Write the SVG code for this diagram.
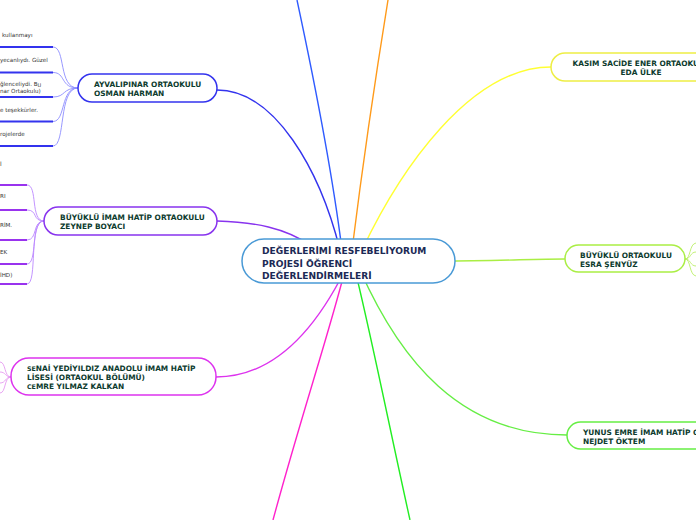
<svg xmlns="http://www.w3.org/2000/svg" width="696" height="520" viewBox="0 0 696 520">
<style>
.node{fill:#fff;stroke-width:1.5}
.t{font-family:"DejaVu Sans",Verdana,sans-serif;font-weight:bold;font-size:7.4px;fill:#0d3b2e}
.tc{font-family:"DejaVu Sans",Verdana,sans-serif;font-weight:bold;font-size:9.1px;fill:#1b2a55}
.leaf{font-family:"DejaVu Sans",Verdana,sans-serif;font-size:5.6px;fill:#333}
.c{fill:none;stroke-width:1.4}
.u{fill:none;stroke-width:2}
.l{fill:none;stroke-width:0.9}
</style>
<rect width="696" height="520" fill="#fff"/>
<g id="connectors">
<path class="c" stroke="#2f5bff" d="M297,0 C312,70 332,170 342,250"/>
<path class="c" stroke="#ff9a1a" d="M388,0 C375,80 362,170 352,250"/>
<path class="c" stroke="#3333ee" d="M217,90 C275,90 320,170 340,250"/>
<path class="c" stroke="#8833ee" d="M217,221 C255,222 285,228 310,245"/>
<path class="c" stroke="#dd33ee" d="M216,377 C280,377 320,320 345,270"/>
<path class="c" stroke="#ff22cc" d="M273,520 C300,420 330,330 345,270"/>
<path class="c" stroke="#22ee22" d="M410,520 C390,430 370,330 355,270"/>
<path class="c" stroke="#ffff33" d="M362,250 C400,170 470,67 551,67"/>
<path class="c" stroke="#aaee44" d="M440,261 C500,261 530,259 565,259"/>
<path class="c" stroke="#66ee44" d="M360,270 C400,360 460,435 567,435"/>
<g stroke="#3333ee">
<path class="u" d="M0,47 H53"/><path class="u" d="M0,72.5 H53"/><path class="u" d="M0,97 H53"/><path class="u" d="M0,121.5 H53"/><path class="u" d="M0,146 H53"/>
</g>
<g stroke="#8c8cff">
<path class="l" d="M53,47 C66,47 58,88 78,88"/>
<path class="l" d="M53,72.5 C66,72.5 60,88 78,88"/>
<path class="l" d="M53,97 C66,97 62,88 78,88"/>
<path class="l" d="M53,121.5 C66,121.5 60,88 78,88"/>
<path class="l" d="M53,146 C66,146 58,88 78,88"/>
</g>
<g stroke="#9933ee">
<path class="u" d="M0,185 H27"/><path class="u" d="M0,210 H27"/><path class="u" d="M0,240 H27"/><path class="u" d="M0,264 H27"/><path class="u" d="M0,284 H27"/>
</g>
<g stroke="#bb88ff">
<path class="l" d="M27,185 C38,185 30,221 44,221"/>
<path class="l" d="M27,210 C38,210 32,221 44,221"/>
<path class="l" d="M27,240 C38,240 32,221 44,221"/>
<path class="l" d="M27,264 C38,264 30,221 44,221"/>
<path class="l" d="M27,284 C38,284 28,221 44,221"/>
</g>
<g stroke="#e59af0">
<path class="l" d="M0,362 C6,362 4,377 11,377"/>
<path class="l" d="M0,372 C6,372 5,377 11,377"/>
<path class="l" d="M0,383 C6,383 5,377 11,377"/>
<path class="l" d="M0,393 C6,393 4,377 11,377"/>
</g>
<g stroke="#bbee66">
<path class="l" d="M685,259 C691,259 689,244 696,243"/>
<path class="l" d="M685,259 C691,259 690,252 696,252"/>
<path class="l" d="M685,259 C691,259 690,266 696,266"/>
<path class="l" d="M685,259 C691,259 689,275 696,276"/>
</g>
</g>
<g id="leaves-text">
<text class="leaf" x="2" y="37">kullanmayı</text>
<text class="leaf" x="0" y="62">yecanlıydı. Güzel</text>
<text class="leaf" x="0" y="86">ğlenceliydi. B<tspan font-size="5" dy="1">U</tspan></text>
<text class="leaf" x="0" y="93">nar Ortaokulu)</text>
<text class="leaf" x="0" y="112">e teşekkürler.</text>
<text class="leaf" x="0" y="136">rojelerde</text>
<text class="leaf" x="0" y="166">İ</text>
<text class="leaf" x="0" y="198">RI</text>
<text class="leaf" x="0" y="227">RİM.</text>
<text class="leaf" x="0" y="254">EK</text>
<text class="leaf" x="0" y="277">İHD)</text>
</g>
<g id="center">
<rect class="node" stroke="#4a9ad6" x="242" y="239" width="213" height="44" rx="22"/>
<text class="tc" x="262" y="254">DEĞERLERİMİ RESFEBELİYORUM</text>
<text class="tc" x="262" y="266.5">PROJESİ ÖĞRENCİ</text>
<text class="tc" x="262" y="279">DEĞERLENDİRMELERİ</text>
</g>
<g id="ayvalipinar">
<rect class="node" stroke="#3333ee" x="78" y="74" width="139" height="28" rx="14"/>
<text class="t" x="94" y="87">AYVALIPINAR ORTAOKULU</text>
<text class="t" x="94" y="96">OSMAN HARMAN</text>
</g>
<g id="buyuklu-imam-hatip">
<rect class="node" stroke="#8833ee" x="44" y="207" width="173" height="28" rx="14"/>
<text class="t" x="60" y="220">BÜYÜKLÜ İMAM HATİP ORTAOKULU</text>
<text class="t" x="60" y="229">ZEYNEP BOYACI</text>
</g>
<g id="senai">
<rect class="node" stroke="#dd33ee" x="11" y="358" width="205" height="37" rx="18"/>
<text class="t" x="27" y="371"><tspan font-size="6.3">SE</tspan>NAİ YEDİYILDIZ ANADOLU İMAM HATİP</text>
<text class="t" x="27" y="380">LİSESİ (ORTAOKUL BÖLÜMÜ)</text>
<text class="t" x="27" y="389"><tspan font-size="6.3">CE</tspan>MRE YILMAZ KALKAN</text>
</g>
<g id="kasim">
<rect class="node" stroke="#eeee44" x="551" y="53" width="170" height="28" rx="14"/>
<text class="t" x="641" y="66" text-anchor="middle">KASIM SACİDE ENER ORTAOKULU</text>
<text class="t" x="641" y="75" text-anchor="middle">EDA ÜLKE</text>
</g>
<g id="buyuklu-ortaokulu">
<rect class="node" stroke="#aaee44" x="565" y="245" width="120" height="27" rx="13.5"/>
<text class="t" x="580" y="258">BÜYÜKLÜ ORTAOKULU</text>
<text class="t" x="580" y="267">ESRA ŞENYÜZ</text>
</g>
<g id="yunus-emre">
<rect class="node" stroke="#66ee44" x="567" y="422" width="160" height="27" rx="13.5"/>
<text class="t" x="583" y="435">YUNUS EMRE İMAM HATİP ORTAOKULU</text>
<text class="t" x="583" y="444">NEJDET ÖKTEM</text>
</g>
</svg>
